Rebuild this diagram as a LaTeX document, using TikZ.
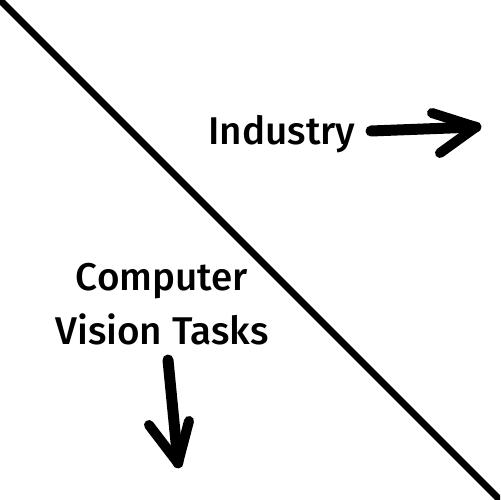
\documentclass[tikz,border=0pt]{standalone}
\usepackage{fontspec}
\setmainfont{Fira Sans}[BoldFont={* Medium}]
\usetikzlibrary{positioning}

\begin{document}
\begin{tikzpicture}[x=0.02cm, y=-0.02cm,
  lbl/.style={font=\fontsize{22}{31}\selectfont\bfseries, align=center, inner sep=0pt},
  hand/.style={line width=0.22cm, line cap=round, line join=round},
  tip/.style={line width=0.2cm, line cap=round, line join=round}
]
  \useasboundingbox (0,0) rectangle (500,500);
  \clip (0,0) rectangle (500,500);

  % dividing line
  \draw[line width=0.14cm] (-10,-10) -- (510,510);

  \node[lbl] (ind) at (282,134) {Industry};
  \node[lbl] (cvt) at (162,304) {Computer\\Vision Tasks};

  % arrow to the right
  \coordinate (ra) at (371,131);
  \coordinate (rb) at (476,127);
  \draw[hand] (ra) -- (rb);
  \draw[tip] (432,113) -- (rb) -- (440,153);

  % arrow down
  \coordinate (da) at (168,360);
  \coordinate (db) at (178,463);
  \draw[hand] (da) -- (db);
  \draw[tip] (149,425) -- (db) -- (189,421);
\end{tikzpicture}
\end{document}
